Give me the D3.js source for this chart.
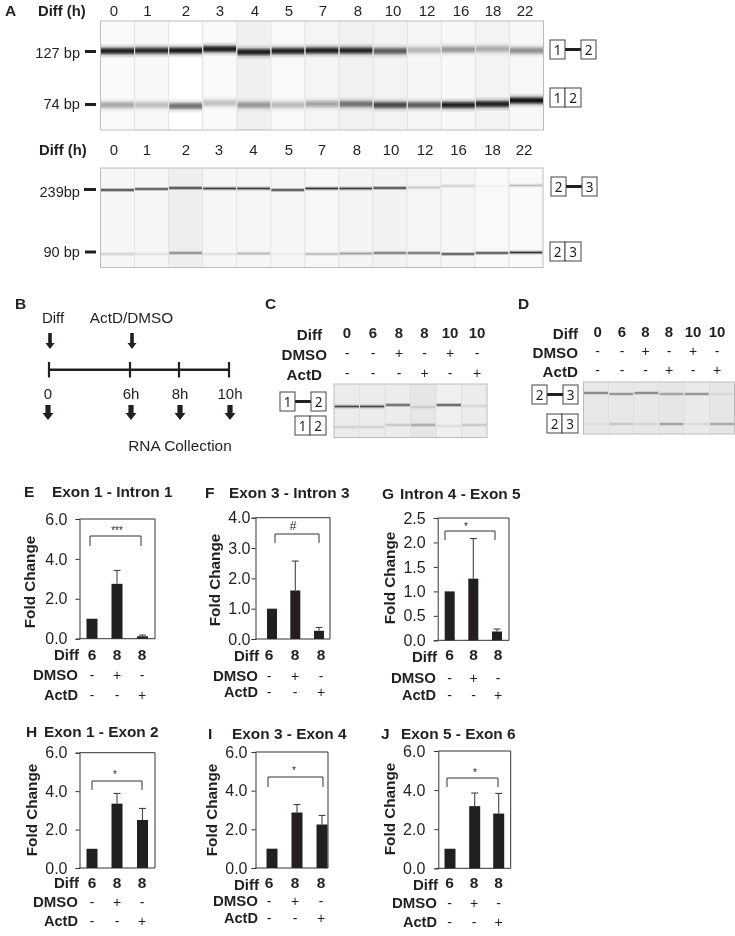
<!DOCTYPE html>
<html><head><meta charset="utf-8">
<style>
html,body{margin:0;padding:0;background:#fff}
svg{display:block;filter:blur(.3px)}
text{font-family:"Liberation Sans",Arial,sans-serif;fill:#231f20}
</style>
<script src="https://cdn.jsdelivr.net/npm/d3@7"></script></head><body>
<svg id="fig" width="735" height="936"></svg>
<script>
// ---------- DATA ----------
const timeLabels = ["0","1","2","3","4","5","7","8","10","12","16","18","22"];
const a1UpperPos = [30,29.5,29.5,28,31,30,29.5,29.5,30,29,28.5,28,29.5];
const a1LowerPos = [84,84,85,82,84,84,83,83,84,84,84,83,79.5];
const a1UpperInt = [.95,.9,.97,.97,.97,.95,.95,.92,.68,.28,.42,.32,.45];
const a1LowerInt = [.35,.25,.6,.25,.4,.27,.35,.58,.78,.68,.95,.95,1];
const a1Lanes = [250,248,255,250,240,249,245,241,243,246,248,243,248];
const a2UpperPos = [22,21,20,20.5,20.5,22,20.5,20.5,20,19.5,18,18,17.5];
const a2LowerPos = [86,86,85,86,85.5,86,86,85.5,85,85,86,85,84.5];
const a2UpperInt = [.85,.8,.85,.8,.8,.85,.85,.8,.85,.2,.18,.05,.25];
const a2LowerInt = [.18,.1,.5,.12,.28,.05,.3,.38,.6,.65,.8,.8,.85];
const a2Lanes = [246,246,238,246,246,246,247,244,242,245,246,249,249];
const cdDiff = ["0","6","8","8","10","10"];
const cdDmso = ["-","-","+","-","+","-"];
const cdActd = ["-","-","-","+","-","+"];
const cUpperPos = [22.5,22.5,21,23,21,22];
const cLowerPos = [43,43,41,41,42,41];
const cUpperInt = [.75,.75,.7,.15,.75,.12];
const cLowerInt = [.15,.15,.2,.35,.1,.2];
const cLanes = [236,236,236,230,240,236];
const dUpperPos = [11,12,11,12,12,12];
const dLowerPos = [42,42,42,42,42,42];
const dUpperInt = [.6,.55,.6,.45,.55,.08];
const dLowerInt = [.05,.2,.12,.45,.1,.4];
const dLanes = [232,232,232,230,234,230];
const barDiff = ["6","8","8"];
const barDmso = ["-","+","-"];
const barActd = ["-","-","+"];
const eValues = [1,2.75,.12], eErrors = [null,3.42,.18], eTicks = [0,2,4,6];
const fValues = [1,1.6,.27], fErrors = [null,2.57,.38], fTicks = [0,1,2,3,4];
const gValues = [1,1.26,.18], gErrors = [null,2.08,.23], gTicks = [0,.5,1,1.5,2,2.5];
const hValues = [1,3.35,2.5], hErrors = [null,3.88,3.1], hTicks = [0,2,4,6];
const iValues = [1,2.87,2.25], iErrors = [null,3.28,2.72], iTicks = [0,2,4,6];
const jValues = [1,3.18,2.8], jErrors = [null,3.85,3.83], jTicks = [0,2,4,6];

// ---------- HELPERS ----------
const svg = d3.select("#fig");
const defs = svg.append("defs");
const INK = "#231f20";
function txt(x,y,s,o={}){
  return svg.append("text").attr("x",x).attr("y",y).text(s)
    .attr("font-size",o.size||14).attr("font-weight",o.bold?"bold":"normal")
    .attr("text-anchor",o.anchor||"start").style("font-family",o.family||null);
}
let gradId=0;
function bandGradient(op,thin){
  const id="g"+(gradId++);
  const g=defs.append("linearGradient").attr("id",id).attr("x1",0).attr("x2",0).attr("y1",0).attr("y2",1);
  const shape=thin?[[0,0],[.25,.35],[.5,1],[.75,.35],[1,0]]:[[0,0],[.2,.18],[.38,.8],[.5,1],[.62,.8],[.8,.18],[1,0]];
  shape.forEach(([o,a])=>g.append("stop").attr("offset",o).attr("stop-color","#0d0c0c").attr("stop-opacity",a*op));
  return `url(#${id})`;
}
function gel(box,lanes,bands,thick,thin){
  const x=d3.scaleBand().domain(d3.range(lanes.length)).range([box.x0,box.x1]);
  const y=d3.scaleLinear().domain([0,box.y1-box.y0]).range([box.y0,box.y1]);
  const g=svg.append("g");
  g.selectAll("rect.l").data(lanes).join("rect").attr("class","l")
    .attr("x",(d,i)=>x(i)).attr("width",x.bandwidth()).attr("y",box.y0).attr("height",box.y1-box.y0)
    .attr("fill",d=>d3.rgb(d,d,d));
  bands.forEach(b=>{
    g.selectAll(null).data(b.pos).join("rect")
      .attr("x",(d,i)=>x(i)+.5).attr("width",x.bandwidth()-1)
      .attr("y",d=>y(d)-thick/2).attr("height",thick)
      .attr("fill",(d,i)=>bandGradient(b.int[i],thin));
  });
  g.selectAll("line.s").data(d3.range(1,lanes.length)).join("line").attr("class","s")
    .attr("x1",i=>x(i)).attr("x2",i=>x(i)).attr("y1",box.y0).attr("y2",box.y1)
    .attr("stroke","#dcdcdc").attr("stroke-width",.8);
  g.append("rect").attr("x",box.x0).attr("y",box.y0).attr("width",box.x1-box.x0).attr("height",box.y1-box.y0)
    .attr("fill","none").attr("stroke","#bcbcbc").attr("stroke-width",1);
}
function exBox(x,y,w,h,s,stroke){
  svg.append("rect").attr("x",x).attr("y",y).attr("width",w).attr("height",h)
    .attr("fill","#fff").attr("stroke",stroke||"#444").attr("stroke-width",1);
  txt(x+w/2,y+h/2+5,s,{size:13.5,anchor:"middle",family:"'Noto Sans'"});
}
function spliced(x,y,a,b){
  svg.append("line").attr("x1",x+15).attr("x2",x+31).attr("y1",y+9.5).attr("y2",y+9.5).attr("stroke",INK).attr("stroke-width",3);
  exBox(x,y,15,19,a); exBox(x+31,y,15,19,b);
}
function joined(x,y,a,b){ exBox(x,y,15,19,a); exBox(x+15,y,16,19,b); }
function dash(x0,x1,y){ svg.append("line").attr("x1",x0).attr("x2",x1).attr("y1",y).attr("y2",y).attr("stroke",INK).attr("stroke-width",3); }
const arrowLine=d3.line();
function arrow(x,y,big){
  const h=big?15:16, hw=big?5.5:4.5, sw=big?2.6:1.8, hh=big?7:6;
  svg.append("path").attr("fill",INK).attr("d",arrowLine([
    [x-sw,y],[x+sw,y],[x+sw,y+h-hh],[x+hw,y+h-hh],[x,y+h],[x-hw,y+h-hh],[x-sw,y+h-hh]])+"Z");
}

// ---------- PANEL A ----------
txt(5,16,"A",{bold:1,size:15.5});
const row1X=[114,147.5,186,220,255,289,323,358,393,427,461,493,525];
const row2X=[114,147,186,219,253.5,289,322,357,391,425,458.5,492.5,524];
txt(38,16,"Diff (h)",{bold:1,size:14.8});
timeLabels.forEach((t,i)=>txt(row1X[i],16,t,{anchor:"middle",size:15}));
gel({x0:100.5,x1:543.5,y0:21,y1:130},a1Lanes,[{pos:a1UpperPos,int:a1UpperInt},{pos:a1LowerPos,int:a1LowerInt}],15,false);
txt(80,58,"127 bp",{anchor:"end",size:14.6}); dash(85,96,51.5);
txt(80,109,"74 bp",{anchor:"end",size:14.6}); dash(85,96,104.5);
spliced(550,40,"1","2"); joined(550,88,"1","2");

txt(39,155,"Diff (h)",{bold:1,size:14.8});
timeLabels.forEach((t,i)=>txt(row2X[i],155,t,{anchor:"middle",size:15}));
gel({x0:100.5,x1:543,y0:168,y1:267.5},a2Lanes,[{pos:a2UpperPos,int:a2UpperInt},{pos:a2LowerPos,int:a2LowerInt}],5,true);
txt(80,197,"239bp",{anchor:"end",size:14.6}); dash(84,96,189.5);
txt(80,257,"90 bp",{anchor:"end",size:14.6}); dash(85,96,252);
spliced(551,177,"2","3"); joined(550,242,"2","3");

// ---------- PANEL B ----------
txt(15,309,"B",{bold:1,size:15.5});
txt(53,323,"Diff",{anchor:"middle",size:15});
txt(131.5,323,"ActD/DMSO",{anchor:"middle",size:15.3});
arrow(50,333,false); arrow(132,333,false);
svg.append("line").attr("x1",49).attr("x2",229).attr("y1",369.7).attr("y2",369.7).attr("stroke",INK).attr("stroke-width",2.6);
const bTicks=[49,130,179,229], bLabels=["0","6h","8h","10h"];
bTicks.forEach((x,i)=>{
  svg.append("line").attr("x1",x).attr("x2",x).attr("y1",362).attr("y2",377.5).attr("stroke",INK).attr("stroke-width",2.2);
  txt(i==0?48:x+1,399,bLabels[i],{anchor:"middle",size:15});
  arrow(i==0?48:x+1,405,true);
});
txt(180,451,"RNA Collection",{anchor:"middle",size:15.4});

// ---------- PANEL C / D ----------
function cdHeader(cols,rightD,rightM,rightA,yD,yM,yA,yNum,ySign1,ySign2){
  txt(rightD,yD,"Diff",{bold:1,anchor:"end",size:15.2});
  txt(rightM,yM,"DMSO",{bold:1,anchor:"end",size:15.2});
  txt(rightA,yA,"ActD",{bold:1,anchor:"end",size:15.2});
  cdDiff.forEach((s,i)=>{
    txt(cols[i],yNum,s,{bold:1,anchor:"middle",size:15});
    txt(cols[i],ySign1,cdDmso[i],{anchor:"middle",size:14});
    txt(cols[i],ySign2,cdActd[i],{anchor:"middle",size:14});
  });
}
txt(265,309,"C",{bold:1,size:15.5});
cdHeader([347,373,399,424.5,450,477],322,327,322,340,360,380,338,358,378);
gel({x0:334,x1:487,y0:384,y1:437.5},cLanes,[{pos:cUpperPos,int:cUpperInt},{pos:cLowerPos,int:cLowerInt}],5,true);
spliced(280,392,"1","2"); joined(295,416,"1","2");

txt(518,309,"D",{bold:1,size:15.5});
cdHeader([597.7,622,645.5,669,693,717],578,578,578,339,358,377,337,356,375);
gel({x0:583.5,x1:734.5,y0:382,y1:434},dLanes,[{pos:dUpperPos,int:dUpperInt},{pos:dLowerPos,int:dLowerInt}],4,true);
spliced(532,385,"2","3"); joined(547,414,"2","3");

// ---------- BAR PANELS ----------
function barPanel(p){
  txt(p.letterX,p.titleY,p.letter,{bold:1,size:15.5});
  txt(p.titleX,p.titleY,p.title,{bold:1,size:15.4});
  const y=d3.scaleLinear().domain([0,d3.max(p.ticks)]).range([p.y1,p.y0]);
  const x=d3.scaleOrdinal().domain([0,1,2]).range(p.barX);
  const g=svg.append("g");
  const axis=d3.axisLeft(y).tickValues(p.ticks).tickFormat(d3.format(".1f")).tickSize(4).tickPadding(p.pad);
  const ax=g.append("g").attr("transform",`translate(${p.x0},0)`).call(axis);
  ax.selectAll("text").attr("font-size",16).attr("fill",INK).style("font-family",'"Liberation Sans"');
  ax.selectAll("line").attr("stroke","#333");
  ax.select(".domain").attr("stroke","#333");
  g.append("path").attr("fill","none").attr("stroke","#333").attr("stroke-width",1)
    .attr("d",`M${p.x0},${p.y0}H${p.x1}V${p.y1}H${p.x0}`);
  g.selectAll("rect.b").data(p.values).join("rect").attr("class","b")
    .attr("x",(d,i)=>x(i)-p.barW/2).attr("width",p.barW)
    .attr("y",d=>y(d)).attr("height",d=>y(0)-y(d)).attr("fill",INK);
  p.errors.forEach((e,i)=>{
    if(e==null) return;
    g.append("line").attr("x1",x(i)).attr("x2",x(i)).attr("y1",y(p.values[i])).attr("y2",y(e)).attr("stroke","#444").attr("stroke-width",1.1);
    g.append("line").attr("x1",x(i)-3.5).attr("x2",x(i)+3.5).attr("y1",y(e)).attr("y2",y(e)).attr("stroke","#444").attr("stroke-width",1.1);
  });
  const [bx0,bx1,by,bd]=p.bracket;
  g.append("path").attr("fill","none").attr("stroke","#333").attr("stroke-width",1)
    .attr("d",`M${bx0},${by+bd}V${by}H${bx1}V${by+bd}`);
  txt(p.sigX,p.sigY,p.sig,{anchor:"middle",size:p.sig=="#"?12:10});
  const tf=`translate(${p.labelX},${p.labelY}) rotate(-90)`;
  svg.append("text").attr("transform",tf).attr("text-anchor","middle").attr("font-size",15.3).attr("font-weight","bold").text("Fold Change");
  txt(p.rowR,p.rowY[0],"Diff",{bold:1,anchor:"end",size:15});
  txt(p.rowR-1,p.rowY[1],"DMSO",{bold:1,anchor:"end",size:15});
  txt(p.rowR-1,p.rowY[2],"ActD",{bold:1,anchor:"end",size:14.6});
  barDiff.forEach((s,i)=>{
    txt(p.colX[i],p.numY,s,{bold:1,anchor:"middle",size:15.5});
    txt(p.colX[i],p.rowY[1],barDmso[i],{anchor:"middle",size:14});
    txt(p.colX[i],p.rowY[2],barActd[i],{anchor:"middle",size:14});
  });
}
barPanel({letter:"E",title:"Exon 1 - Intron 1",letterX:24,titleX:52,titleY:497,x0:79.5,x1:155,y0:519,y1:638.7,barX:[92,117,142.5],barW:11,pad:8,
  values:eValues,errors:eErrors,ticks:eTicks,bracket:[90,141,536,10],sig:"***",sigX:117,sigY:534,labelX:35,labelY:582,rowR:79,rowY:[660,680,700],numY:660,colX:[92,117,142]});
barPanel({letter:"F",title:"Exon 3 - Intron 3",letterX:205,titleX:229,titleY:498,x0:255.5,x1:330,y0:517.7,y1:639,barX:[272,295.3,319],barW:10,pad:1,
  values:fValues,errors:fErrors,ticks:fTicks,bracket:[275,319,534,9],sig:"#",sigX:293,sigY:530,labelX:220,labelY:580,rowR:259,rowY:[661,681,697],numY:660,colX:[269,295,321]});
barPanel({letter:"G",title:"Intron 4 - Exon 5",letterX:382,titleX:400,titleY:499,x0:437.7,x1:509,y0:518,y1:640.3,barX:[449.7,473.3,497],barW:10,pad:8,
  values:gValues,errors:gErrors,ticks:gTicks,bracket:[445,495,531,9],sig:"*",sigX:466,sigY:530,labelX:395,labelY:578,rowR:437,rowY:[662,683,700],numY:660,colX:[449.5,473.5,498]});
barPanel({letter:"H",title:"Exon 1 - Exon 2",letterX:26,titleX:44,titleY:737,x0:79.5,x1:155,y0:752.7,y1:868,barX:[92,117,142.5],barW:11,pad:8,
  values:hValues,errors:hErrors,ticks:hTicks,bracket:[92,142,781,9],sig:"*",sigX:115,sigY:778,labelX:37,labelY:810,rowR:79,rowY:[888,907,926],numY:888,colX:[92,117,142]});
barPanel({letter:"I",title:"Exon 3 - Exon 4",letterX:208,titleX:232,titleY:739,x0:255.5,x1:328,y0:752,y1:868,barX:[272,297,322],barW:11,pad:4,
  values:iValues,errors:iErrors,ticks:iTicks,bracket:[268,323,777,10],sig:"*",sigX:294,sigY:774,labelX:217,labelY:810,rowR:259,rowY:[890,906,923],numY:888,colX:[269,295,321]});
barPanel({letter:"J",title:"Exon 5 - Exon 6",letterX:381,titleX:401,titleY:739,x0:438.3,x1:510.7,y0:751,y1:868.3,barX:[450,474.7,498.7],barW:11,pad:9,
  values:jValues,errors:jErrors,ticks:jTicks,bracket:[447,498,778,9],sig:"*",sigX:475,sigY:776,labelX:395,labelY:809,rowR:438,rowY:[890,908,927],numY:888,colX:[449.5,474,498.5]});
</script></body></html>
